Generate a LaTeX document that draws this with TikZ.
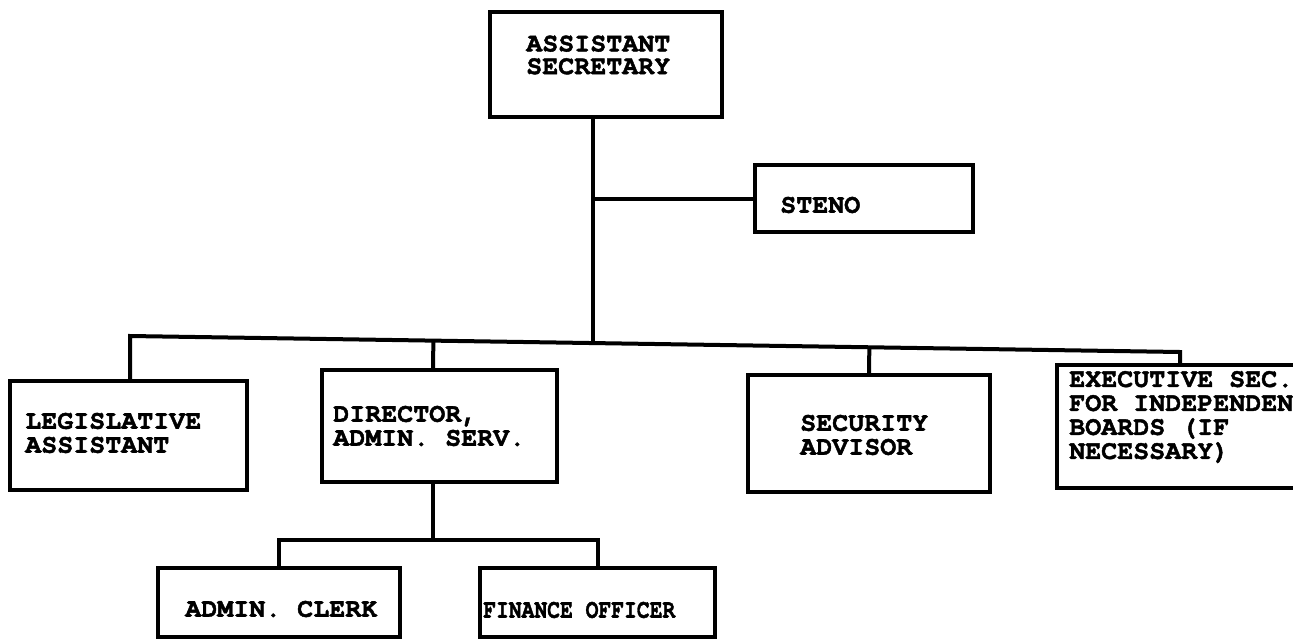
\documentclass[tikz,border=0pt]{standalone}
\usepackage{fontspec}
\newfontfamily\typefont[BoldFeatures={FakeBold=1.6}]{TeX Gyre Cursor}
\usetikzlibrary{fit,calc}
\begin{document}
\begin{tikzpicture}[x=0.75pt,y=-0.75pt,
  box/.style={draw, line width=3.2pt, inner sep=0pt},
  link/.style={line width=3pt, line join=miter},
  lbl/.style={font=\typefont\bfseries\fontsize{20}{18}\selectfont, inner sep=0pt, align=left, anchor=west}]
\clip (0,0) rectangle (1293,640);
\fill[white] (0,0) rectangle (1293,640);

% boxes
\node[box, fit={(490,12) (722,117)}] (as) {};
\node[box, fit={(755,165) (973,232)}] (steno) {};
\node[box, fit={(10,381) (247,490)}] (leg) {};
\node[box, fit={(322,370) (557,482)}] (dir) {};
\node[box, fit={(748,375) (990,492)}] (sec) {};
\node[box, fit={(1057,365) (1320,488)}] (exe) {};
\node[box, fit={(158,568) (400,637)}] (clerk) {};
\node[box, fit={(480,568) (715,637)}] (fin) {};

% labels
\node[lbl, font=\typefont\bfseries\fontsize{20}{17}\selectfont] (as-t) at (526,55) {ASSISTANT\\SECRETARY};
\node[lbl] (steno-t) at (780,205) {STENO};
\node[lbl] (leg-t) at (25,433) {LEGISLATIVE\\ASSISTANT};
\node[lbl] (dir-t) at (333,426) {DIRECTOR,\\ADMIN. SERV.};
\node[lbl] (sec-t) at (800,435) {SECURITY\\ADVISOR};
\node[lbl] (exe-t) at (1069,417) {EXECUTIVE SEC.\\FOR INDEPENDENT\\BOARDS (IF\\NECESSARY)};
\node[lbl] (clerk-t) at (185,609) {ADMIN. CLERK};
\node[lbl] (fin-t) at (483,610) {\scalebox{0.8}[1]{FINANCE OFFICER}};

% connectors
\coordinate (j) at (593,343);
\coordinate (bl) at (130,336);
\coordinate (br) at (1180,352);
\coordinate (dj) at (433,0);
\coordinate (sb) at (0,540);
\draw[link] (j |- as.south) -- (j);
\draw[link] (steno.west) -- (steno.west -| j);
\draw[link] (bl |- leg.north) -- (bl) -- (br) -- (br |- exe.north);
\draw[link] (dj |- dir.north) -- ($(bl)!(dj |- dir.north)!(br)$);
\draw[link] (sec.north) -- ($(bl)!(sec.north)!(br)$);
\draw[link] (dj |- dir.south) -- (dj |- sb);
\draw[link] (clerk.north) |- (fin.north |- sb) -- (fin.north);
\end{tikzpicture}
\end{document}
